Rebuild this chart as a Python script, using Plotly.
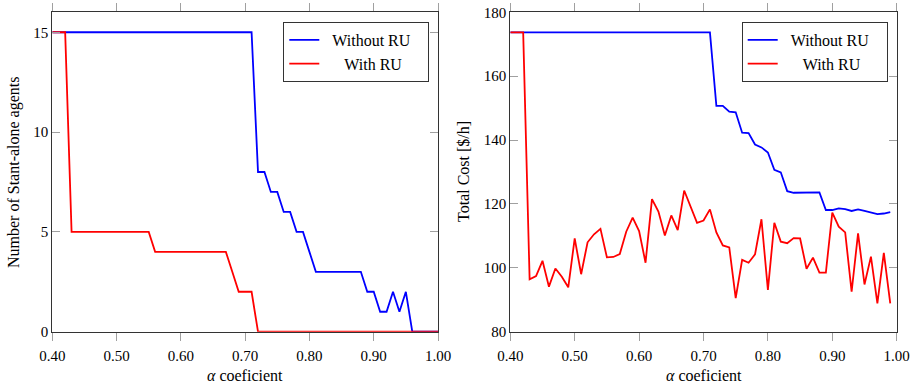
import plotly.graph_objects as go

# ---------------- data ----------------
alpha_left = [0.40, 0.41, 0.42, 0.43, 0.44, 0.45, 0.46, 0.47, 0.48, 0.49,
              0.50, 0.51, 0.52, 0.53, 0.54, 0.55, 0.56, 0.57, 0.58, 0.59,
              0.60, 0.61, 0.62, 0.63, 0.64, 0.65, 0.66, 0.67, 0.68, 0.69,
              0.70, 0.71, 0.72, 0.73, 0.74, 0.75, 0.76, 0.77, 0.78, 0.79,
              0.80, 0.81, 0.82, 0.83, 0.84, 0.85, 0.86, 0.87, 0.88, 0.89,
              0.90, 0.91, 0.92, 0.93, 0.94, 0.95, 0.96, 0.97, 0.98, 0.99,
              1.00]

standalone_without_ru = [15, 15, 15, 15, 15, 15, 15, 15, 15, 15,
                         15, 15, 15, 15, 15, 15, 15, 15, 15, 15,
                         15, 15, 15, 15, 15, 15, 15, 15, 15, 15,
                         15, 15, 8, 8, 7, 7, 6, 6, 5, 5,
                         4, 3, 3, 3, 3, 3, 3, 3, 3, 2,
                         2, 1, 1, 2, 1, 2, 0, 0, 0, 0,
                         0]

standalone_with_ru = [15, 15, 15, 5, 5, 5, 5, 5, 5, 5,
                      5, 5, 5, 5, 5, 5, 4, 4, 4, 4,
                      4, 4, 4, 4, 4, 4, 4, 4, 3, 2,
                      2, 2, 0, 0, 0, 0, 0, 0, 0, 0,
                      0, 0, 0, 0, 0, 0, 0, 0, 0, 0,
                      0, 0, 0, 0, 0, 0, 0, 0, 0, 0,
                      0]

alpha_right = [0.40, 0.41, 0.42, 0.43, 0.44, 0.45, 0.46, 0.47, 0.48, 0.49,
               0.50, 0.51, 0.52, 0.53, 0.54, 0.55, 0.56, 0.57, 0.58, 0.59,
               0.60, 0.61, 0.62, 0.63, 0.64, 0.65, 0.66, 0.67, 0.68, 0.69,
               0.70, 0.71, 0.72, 0.73, 0.74, 0.75, 0.76, 0.77, 0.78, 0.79,
               0.80, 0.81, 0.82, 0.83, 0.84, 0.85, 0.86, 0.87, 0.88, 0.89,
               0.90, 0.91, 0.92, 0.93, 0.94, 0.95, 0.96, 0.97, 0.98, 0.99]

cost_without_ru = [173.7, 173.7, 173.7, 173.7, 173.7, 173.7, 173.7, 173.7, 173.7, 173.7,
                   173.7, 173.7, 173.7, 173.7, 173.7, 173.7, 173.7, 173.7, 173.7, 173.7,
                   173.7, 173.7, 173.7, 173.7, 173.7, 173.7, 173.7, 173.7, 173.7, 173.7,
                   173.7, 173.7, 150.7, 150.7, 148.9, 148.7, 142.3, 142.2, 138.6, 137.7,
                   136.1, 130.7, 129.9, 124.0, 123.5, 123.5, 123.5, 123.6, 123.6, 118.1,
                   118.1, 118.6, 118.4, 117.8, 118.3, 117.8, 117.2, 116.8, 117.0, 117.4]

cost_with_ru = [173.7, 173.7, 173.7, 96.4, 97.4, 102.2, 94.1, 99.8, 97.2, 93.9,
                109.2, 98.0, 108.0, 110.5, 112.2, 103.3, 103.4, 104.3, 111.3, 115.7,
                111.5, 101.6, 121.5, 117.6, 110.1, 116.4, 111.8, 124.2, 119.1, 114.1,
                114.8, 118.3, 111.1, 107.0, 106.4, 90.5, 102.5, 101.6, 104.2, 115.2,
                93.1, 114.1, 108.2, 107.7, 109.3, 109.2, 99.7, 103.2, 98.5, 98.5,
                117.3, 112.9, 111.1, 92.5, 110.8, 94.8, 103.5, 88.9, 104.7, 88.9]

x_ticks = [0.40, 0.50, 0.60, 0.70, 0.80, 0.90, 1.00]
left_y_ticks = [0, 5, 10, 15]
right_y_ticks = [80, 100, 120, 140, 160, 180]

NB = "\u00a0"
series_names = [NB * 2 + "Without RU" + NB * 3, NB * 5 + "With RU"]

# ---------------- style ----------------
W, H = 914, 387
FONT = "Liberation Serif"
BLUE = "rgb(0,0,255)"
RED = "rgb(255,0,0)"
LW = 1.8

fig = go.Figure()

fig.add_trace(go.Scatter(x=alpha_left, y=standalone_without_ru, mode="lines",
                         name=series_names[0], line=dict(color=BLUE, width=LW),
                         xaxis="x", yaxis="y", legend="legend"))
fig.add_trace(go.Scatter(x=alpha_left, y=standalone_with_ru, mode="lines",
                         name=series_names[1], line=dict(color=RED, width=LW),
                         xaxis="x", yaxis="y", legend="legend"))
fig.add_trace(go.Scatter(x=alpha_right, y=cost_without_ru, mode="lines",
                         name=series_names[0], line=dict(color=BLUE, width=LW),
                         xaxis="x2", yaxis="y2", legend="legend2"))
fig.add_trace(go.Scatter(x=alpha_right, y=cost_with_ru, mode="lines",
                         name=series_names[1], line=dict(color=RED, width=LW),
                         xaxis="x2", yaxis="y2", legend="legend2"))

yd = [(H - 331.7) / H, (H - 12.3) / H]
xd1 = [52.3 / W, 438.0 / W]
xd2 = [510.3 / W, 896.7 / W]

common_x = dict(range=[0.40, 1.00], tickvals=x_ticks, tickformat=".2f",
                ticks="outside", ticklen=8, tickwidth=1.2, tickcolor="#a0a0a0",
                showline=True, linecolor="#333333", linewidth=1.3,
                mirror="allticks", showgrid=False, zeroline=False,
                ticklabelstandoff=2,
                tickfont=dict(family=FONT, size=15, color="black"),
                automargin=False)
common_y = dict(ticks="inside", ticklen=8, tickwidth=1.2, tickcolor="#a0a0a0",
                showline=True, linecolor="#333333", linewidth=1.3,
                mirror="allticks", showgrid=False, zeroline=False,
                tickfont=dict(family=FONT, size=15, color="black"),
                automargin=False)

legend_common = dict(bgcolor="white", bordercolor="#333333", borderwidth=1,
                     font=dict(family=FONT, size=16, color="black"),
                     xanchor="left", yanchor="top", tracegroupgap=0,
                     itemwidth=30)

fig.update_layout(
    width=W, height=H,
    margin=dict(l=0, r=0, t=0, b=0),
    paper_bgcolor="white", plot_bgcolor="white",
    font=dict(family=FONT, size=15, color="black"),
    xaxis=dict(domain=xd1, anchor="y", **common_x),
    yaxis=dict(domain=yd, anchor="x", range=[0, 16], tickvals=left_y_ticks, **common_y),
    xaxis2=dict(domain=xd2, anchor="y2", **common_x),
    yaxis2=dict(domain=yd, anchor="x2", range=[80, 180], tickvals=right_y_ticks, **common_y),
    legend=dict(x=283.3 / W, y=1 - 22 / H, **legend_common),
    legend2=dict(x=741.7 / W, y=1 - 22 / H, **legend_common),
    showlegend=True,
)

ymid = 1 - ((12.3 + 331.7) / 2) / H
annots = [
    dict(text="<i>α</i> coeficient", x=(xd1[0] + xd1[1]) / 2, y=1 - 375 / H),
    dict(text="<i>α</i> coeficient", x=(xd2[0] + xd2[1]) / 2, y=1 - 375 / H),
    dict(text="Number of Stant-alone agents", x=14 / W, y=ymid, textangle=-90),
    dict(text="Total Cost [$/h]", x=463 / W, y=ymid, textangle=-90),
]
for a in annots:
    fig.add_annotation(xref="paper", yref="paper", showarrow=False,
                       xanchor="center", yanchor="middle",
                       font=dict(family=FONT, size=16, color="black"), **a)

fig.write_html("out.html", config={"displayModeBar": False},
               post_script="document.body.style.margin='0';")
